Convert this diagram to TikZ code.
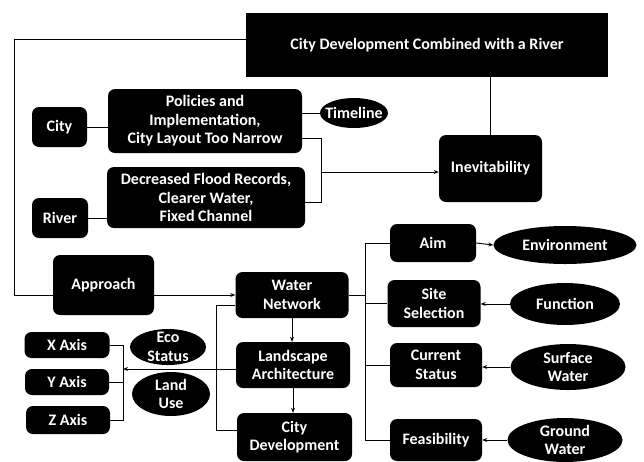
\documentclass[tikz,border=0pt]{standalone}
\usepackage{fontspec}
\setmainfont{Carlito}
\usepackage{tikz}
\usetikzlibrary{shapes.geometric,arrows.meta,calc}

\begin{document}
\begin{tikzpicture}[x=1pt,y=-1pt,>={Stealth[length=5pt,width=4pt]}]
\tikzset{
    box/.style={rectangle, fill=black, text=white, rounded corners=7pt, align=center, inner sep=1pt, font=\fontsize{16}{18.5}\selectfont\bfseries},
    oval/.style={ellipse, fill=black, text=white, align=center, inner sep=-12pt, font=\fontsize{16}{18.5}\selectfont\bfseries},
    link/.style={line width=0.9pt}
}
\useasboundingbox (0,0) rectangle (644,461);

\node[box, rounded corners=0pt, minimum width=362pt, minimum height=64pt] (title) at (427,45) {City Development Combined with a River};
\node[box, minimum width=55pt, minimum height=40pt] (city) at (59.5,127) {City};
\node[box, minimum width=194pt, minimum height=64pt] (policies) at (205,121) {Policies and\\Implementation,\\City Layout Too Narrow};
\node[oval, minimum width=68pt, minimum height=30pt] (timeline) at (354,113) {Timeline};
\node[box, minimum width=103pt, minimum height=67pt] (inevit) at (490.5,168.5) {Inevitability};
\node[box, minimum width=198pt, minimum height=61pt] (decreased) at (206,197.5) {Decreased Flood Records,\\Clearer Water,\\Fixed Channel};
\node[box, minimum width=56pt, minimum height=40pt] (river) at (60,218) {River};
\node[box, minimum width=101pt, minimum height=60pt] (approach) at (103.5,285) {Approach};
\node[box, minimum width=113pt, minimum height=46pt] (water) at (292,295) {Water\\Network};
\node[box, minimum width=114pt, minimum height=46pt] (landscape) at (293,365) {Landscape\\Architecture};
\node[box, minimum width=115pt, minimum height=48pt] (citydev) at (294.5,437) {City\\Development};
\node[box, minimum width=86pt, minimum height=38pt] (aim) at (433,243) {Aim};
\node[oval, minimum width=143pt, minimum height=38pt] (env) at (565,245) {Environment};
\node[box, minimum width=93pt, minimum height=47pt] (site) at (434,303.5) {Site\\Selection};
\node[oval, minimum width=110pt, minimum height=42pt] (func) at (565,304) {Function};
\node[box, minimum width=92pt, minimum height=44pt] (current) at (436,365) {Current\\Status};
\node[oval, minimum width=115pt, minimum height=46pt] (surface) at (568,367) {Surface\\Water};
\node[box, minimum width=92pt, minimum height=42pt] (feas) at (436,440) {Feasibility};
\node[oval, minimum width=115pt, minimum height=44pt] (ground) at (565,440) {Ground\\Water};
\node[box, minimum width=85pt, minimum height=26pt] (xaxis) at (67,345) {X Axis};
\node[box, minimum width=84pt, minimum height=26pt] (yaxis) at (67,382) {Y Axis};
\node[box, minimum width=84pt, minimum height=28pt] (zaxis) at (68,420) {Z Axis};
\node[oval, minimum width=76pt, minimum height=36pt] (eco) at (168,347) {Eco\\Status};
\node[oval, minimum width=78pt, minimum height=44pt] (landuse) at (171,394) {Land\\Use};

\coordinate (tl) at (14,39);
\coordinate (brk) at (321,172);
\coordinate (axbr) at (123,369);
\coordinate (bus) at (365,295);

\draw[link] ([yshift=6pt]title.west) -- (tl) |- (approach.west |- water.west);
\draw[link] (inevit.north |- title.south) -- (inevit.north);
\draw[link] (city.east) -- (city.east -| policies.west);
\draw[link] (river.east) -- (river.east -| decreased.west);
\draw[link] (policies.east |- timeline.west) -- (timeline.west);
\draw[link] ([yshift=-17pt]policies.east) -| (brk);
\draw[link] ([yshift=-4.5pt]decreased.east) -| (brk);
\draw[link,->] (brk) -- (inevit.west |- brk);
\draw[link,->] (approach.east |- water.west) -- (water.west);
\draw[link,->] (water.south) -- (water.south |- landscape.north);
\draw[link,->] (landscape.south) -- (landscape.south |- citydev.north);
\draw[link] ([yshift=-10pt]water.west) -- ++(-19,0) |- ([yshift=7pt]citydev.west);
\draw[link,->] ([yshift=-4pt]landscape.west) -- (axbr);
\draw[link] (xaxis.east) -| (axbr);
\draw[link] (zaxis.east) -| (axbr);
\draw[link] (yaxis.east) -- (yaxis.east -| axbr);
\draw[link] (water.east) -- (bus);
\foreach \n in {aim,site,current,feas}
    \draw[link] (bus) |- (\n.west);
\draw[link,->] (aim.east) -- (env.west);
\draw[link,->] (func.west) -- (func.west -| site.east);
\draw[link,->] (surface.west) -- (surface.west -| current.east);
\draw[link,->] (ground.west) -- (ground.west -| feas.east);
\end{tikzpicture}
\end{document}
